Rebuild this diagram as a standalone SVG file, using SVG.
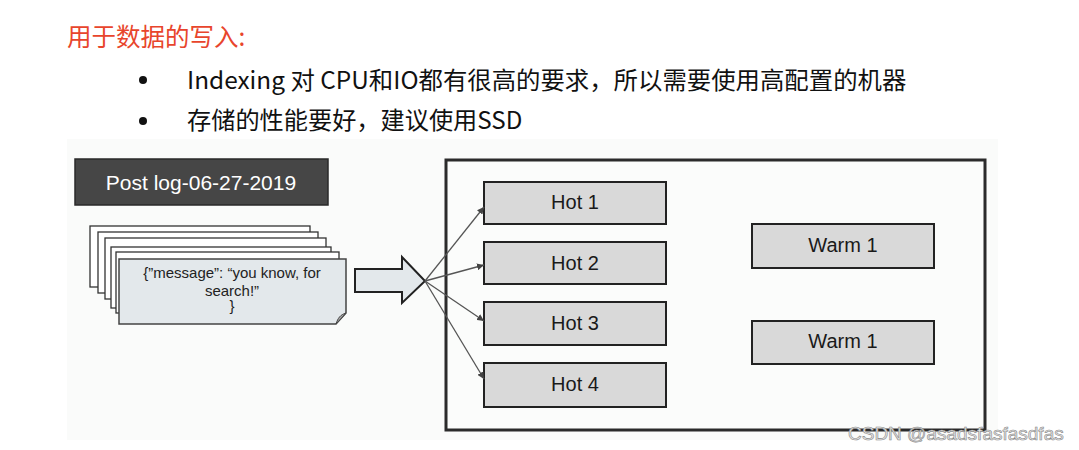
<svg xmlns="http://www.w3.org/2000/svg" width="1079" height="450" viewBox="0 0 1079 450">
<defs>
<style>
.cjk{font-family:"Noto Sans CJK SC","Microsoft YaHei",sans-serif;}
.sans{font-family:"Liberation Sans",Arial,sans-serif;}
.node rect{fill:#d9d9d9;stroke:#222;stroke-width:2;}
.node text{font-family:"Liberation Sans",Arial,sans-serif;font-size:20px;fill:#1a1a1a;text-anchor:middle;}
.layer{fill:#ffffff;stroke:#333;stroke-width:1.3;}
.conn{stroke:#555;stroke-width:1.3;fill:none;marker-end:url(#ah);}
</style>
<marker id="ah" viewBox="0 0 10 10" refX="10" refY="5" markerWidth="7" markerHeight="7" markerUnits="userSpaceOnUse" orient="auto">
<path d="M0,0 L10,5 L0,10 z" fill="#444"/>
</marker>
</defs>
<rect width="1079" height="450" fill="#ffffff"/>
<text class="cjk" x="67" y="46" font-size="24.5" fill="#e8452c">用于数据的写入:</text>
<circle cx="143" cy="80" r="4" fill="#111"/>
<text class="cjk" x="187" y="89" font-size="24.4" fill="#111">Indexing 对 CPU和IO都有很高的要求，所以需要使用高配置的机器</text>
<circle cx="143" cy="121" r="4" fill="#111"/>
<text class="cjk" x="187" y="129" font-size="24.2" fill="#111">存储的性能要好，建议使用SSD</text>
<rect x="67" y="139" width="931" height="301" fill="#fafbfa"/>
<g id="postlog">
<rect x="75" y="159" width="253" height="46" fill="#464646" stroke="#2a2a2a" stroke-width="1.5"/>
<text class="sans" x="201" y="190" font-size="21" fill="#ffffff" text-anchor="middle">Post log-06-27-2019</text>
</g>
<g id="documents">
<rect class="layer" x="90" y="226" width="220" height="61"/>
<rect class="layer" x="98" y="232" width="220" height="61"/>
<rect class="layer" x="105" y="238" width="221" height="61"/>
<rect class="layer" x="111" y="247" width="220" height="61"/>
<rect class="layer" x="116" y="252" width="223" height="61"/>
<path d="M119,259 H346 V313 L336,324 H119 Z" fill="#e3e8eb" stroke="#444" stroke-width="1.5"/>
<path d="M346,313 L336,324 C338,318 340,315 346,313 Z" fill="#a9a9a9" stroke="#444" stroke-width="1"/>
<text class="sans" font-size="15" fill="#222" text-anchor="middle"><tspan x="232" y="278">{”message”: “you know, for</tspan><tspan x="232" y="296">search!”</tspan><tspan x="232" y="311">}</tspan></text>
</g>
<g id="bigarrow">
<path d="M355,269 H402 V257 L425,281 L402,303 V292 H355 Z" fill="#e3e8eb" stroke="#222" stroke-width="2"/>
</g>
<g id="cluster">
<rect x="446" y="160" width="539" height="270" fill="#fbfcfb" stroke="#2b2b2b" stroke-width="3"/>
</g>
<g id="hot1" class="node"><rect x="484" y="182" width="182" height="42"/><text x="575" y="209">Hot 1</text></g>
<g id="hot2" class="node"><rect x="484" y="242" width="182" height="42"/><text x="575" y="270">Hot 2</text></g>
<g id="hot3" class="node"><rect x="484" y="302" width="182" height="43"/><text x="575" y="330">Hot 3</text></g>
<g id="hot4" class="node"><rect x="484" y="363" width="182" height="44"/><text x="575" y="391">Hot 4</text></g>
<g id="warm1" class="node"><rect x="752" y="224" width="182" height="44"/><text x="843" y="252">Warm 1</text></g>
<g id="warm2" class="node"><rect x="752" y="321" width="182" height="43"/><text x="843" y="348">Warm 1</text></g>
<g id="connectors">
<line class="conn" x1="425" y1="281" x2="484" y2="207"/>
<line class="conn" x1="425" y1="281" x2="484" y2="265"/>
<line class="conn" x1="425" y1="281" x2="484" y2="321"/>
<line class="conn" x1="425" y1="281" x2="484" y2="379"/>
</g>
<text class="sans" x="848" y="440" font-size="19" fill="#e8e8e8" stroke="#888" stroke-width="0.6">CSDN @asadsfasfasdfas</text>
</svg>
